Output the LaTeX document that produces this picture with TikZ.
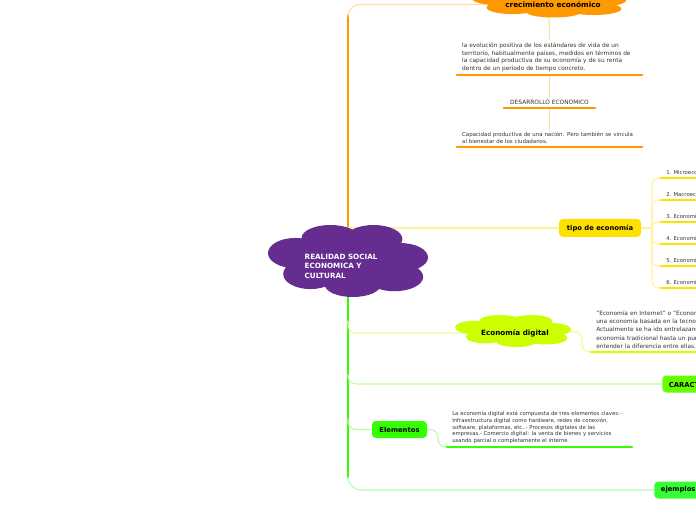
\documentclass[tikz,border=0pt]{standalone}
\usepackage{fontspec}
\setmainfont{DejaVu Sans}
\usepackage{tikz}
\usetikzlibrary{positioning,backgrounds}
\definecolor{mapviolet}{HTML}{662D91}
\definecolor{maporange}{HTML}{FF9900}
\definecolor{mapyellow}{HTML}{FFE100}
\definecolor{maplime}{HTML}{CCFF00}
\definecolor{mapgreen}{HTML}{33FF00}
\definecolor{mapleaf}{HTML}{66FF00}
\definecolor{mapmint}{HTML}{33FF33}
\definecolor{maptext}{HTML}{333333}
\newcommand{\mapcloud}[5]{%
  \fill[#5] foreach \dx/\dy/\rx/\ry in {-0.22/-0.64/0.36/0.36,0.32/-0.61/0.36/0.39,-0.66/-0.22/0.34/0.42,0.65/-0.1/0.35/0.4,-0.47/0.36/0.34/0.42,0.06/0.66/0.35/0.34,0.58/0.44/0.36/0.4,0/0/0.7/0.6}
    {({#1+\dx*#3},{#2+\dy*#4}) ellipse [x radius={\rx*#3},y radius={\ry*#4}]};}
\begin{document}
\begin{tikzpicture}[
  x=0.75pt,y=-0.75pt,
  topic/.style={rounded corners=3pt,inner sep=0pt,font=\bfseries\fontsize{5.1}{6}\selectfont},
  note/.style={align=left,text=maptext,inner xsep=3.75pt,inner ysep=2.2pt,font=\fontsize{4.1}{5.6}\selectfont},
  uline/.style={line width=2.2pt,line cap=round},
  spine/.style={line width=1.6pt},
  link/.style={line width=0.8pt,rounded corners=6pt}
]
\clip (0,0) rectangle (696,520);
\coordinate (real) at (348,261);
\coordinate (otop) at (348,14);
\coordinate (gbot) at (348,478);
\mapcloud{549}{2}{77}{15.5}{maporange}
\mapcloud{348}{261}{80}{36}{mapviolet}
\mapcloud{513}{331}{58}{16}{maplime}
\node[font=\bfseries\fontsize{5.5}{6}\selectfont] (crec) at (553,4.5) {crecimiento económico};
\node[align=left,text=white,font=\bfseries\fontsize{5.4}{7.1}\selectfont,anchor=west] (realtxt) at (300,266) {REALIDAD SOCIAL\\ECONOMICA Y\\CULTURAL};
\node[font=\bfseries\fontsize{5.4}{6}\selectfont] (digi) at (515,333) {Economía digital};
\node[topic,fill=mapyellow,minimum width=61.5pt,minimum height=13.5pt] (tipo) at (600,228) {tipo de economía};

\node[note,text width=131pt,anchor=south,font=\fontsize{4.4}{5.8}\selectfont] (evol) at (549.5,75) {la evolución positiva de los estándares de vida de un\\territorio, habitualmente países, medidos en términos de\\la capacidad productiva de su economía y de su renta\\dentro de un periodo de tiempo concreto.};
\draw[uline,draw=maporange] (evol.south west) -- (evol.south east);
\node[note,minimum width=68pt,align=center,anchor=south,font=\fontsize{4.4}{5.6}\selectfont] (desa) at (549.5,108) {DESARROLLO ECONOMICO};
\draw[uline,draw=maporange] (desa.south west) -- (desa.south east);
\node[note,text width=131pt,anchor=south] (capa) at (549.5,147) {Capacidad productiva de una nación. Pero también se vincula\\al bienestar de los ciudadanos.};
\draw[uline,draw=maporange] (capa.south west) -- (capa.south east);

\coordinate (yfork) at (652,228);
\foreach \n/\lab in {1/1. Microeconomía,2/2. Macroeconomía,3/3. Economía,4/4. Economía,5/5. Economía,6/6. Economía}{
  \node[note,anchor=south west,font=\fontsize{4}{5}\selectfont] (tipo\n) at (661,156+22*\n) {\lab};
  \draw[uline,draw=mapyellow] (tipo\n.south west) -- (700,156+22*\n);
}

\node[note,anchor=south west,text width=160pt,font=\fontsize{4.4}{6.3}\selectfont] (ditx) at (591,352) {"Economía en Internet" o "Economía\\una economía basada en la tecnología\\Actualmente se ha ido entrelazando\\economía tradicional hasta un punto\\entender la diferencia entre ellas.};
\draw[uline,draw=maplime] (ditx.south west) -- (700,352);
\coordinate (dfork) at (582,331);

\node[topic,fill=mapleaf,anchor=west,minimum height=12.75pt,text width=60pt,inner xsep=5pt] (cara) at (662,384) {CARACTERÍSTICAS};

\node[topic,fill=mapgreen,minimum width=41.25pt,minimum height=12.75pt] (elem) at (399.5,429.5) {Elementos};
\node[note,anchor=south west,text width=135pt,font=\fontsize{4}{5.1}\selectfont] (eltx) at (447,447) {La economía digital está compuesta de tres elementos claves:-\\Infraestructura digital como hardware, redes de conexión,\\software, plataformas, etc..- Procesos digitales de las\\empresas.- Comercio digital: la venta de bienes y servicios\\usando parcial o completamente el interne};
\draw[uline,draw=mapgreen] (eltx.south west) -- (632,447);
\coordinate (efork) at (438,429.5);

\node[topic,fill=mapmint,anchor=west,minimum height=12.75pt,text width=40pt,inner xsep=5pt] (ejem) at (654,490) {ejemplos};

\begin{pgfonlayer}{background}
\draw[spine,draw=maporange] (real) -- (otop);
\draw[link,draw=maporange!35,rounded corners=9pt] (otop) |- (crec.west);
\draw[link,draw=maporange!35] (549,10) -- (evol.north);
\draw[link,draw=maporange!35] (evol.south) -- (desa.north);
\draw[link,draw=maporange!35] (desa.south) -- (capa.north);
\draw[link,draw=mapyellow!40] (real |- tipo) -- (tipo);
\draw[link,draw=mapyellow!40] (tipo.east) -- (yfork);
\foreach \n in {1,...,6}
  \draw[link,draw=mapyellow!40,rounded corners=5pt] (yfork) |- (tipo\n.south west);
\draw[spine,draw=mapgreen] (real) -- (gbot);
\draw[link,draw=maplime!45] (348,321) |- (digi.west);
\draw[link,draw=maplime!45] (digi.east) -- (dfork) |- (ditx.south west);
\draw[link,draw=mapleaf!40] (348,374) |- (cara.west);
\draw[link,draw=mapgreen!40] (348,419) |- (elem.west);
\draw[link,draw=mapgreen!40] (elem.east) -- (efork) |- (eltx.south west);
\draw[link,draw=mapmint!40,rounded corners=10pt] (gbot) |- (ejem.west);
\end{pgfonlayer}
\end{tikzpicture}
\end{document}
